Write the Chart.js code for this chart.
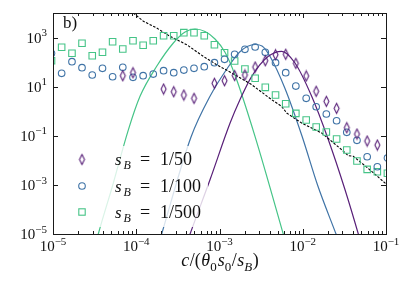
<!DOCTYPE html>
<html>
<head>
<meta charset="utf-8">
<script src="https://cdn.jsdelivr.net/npm/chart.js@4.4.0/dist/chart.umd.min.js"></script>
<style>
  html, body { margin: 0; padding: 0; background: #fff; }
</style>
</head>
<body>
<canvas id="chart" width="416" height="284"></canvas>
<script>
// bin centres, shared by the three marker sets
var binX = [9.6e-6, 1.27e-5, 1.69e-5, 2.23e-5, 2.96e-5, 3.93e-5, 5.20e-5, 6.89e-5, 9.14e-5,
  1.21e-4, 1.60e-4, 2.13e-4, 2.82e-4, 3.73e-4, 4.94e-4, 6.56e-4, 8.69e-4,
  1.15e-3, 1.52e-3, 2.02e-3, 2.68e-3, 3.55e-3, 4.71e-3, 6.24e-3, 8.26e-3,
  1.10e-2, 1.45e-2, 1.92e-2, 2.55e-2, 3.38e-2, 4.48e-2, 5.94e-2, 7.87e-2, 1.04e-1];

var diamondY = [null, null, null, null, null, null, null, 27.9, 37, null, null, 8.02, 6.22, 4.57, 3.35, null,
  13.7, 17.5, 28.4, 29.9, 63, 114, 200, 208, 89.3, 27.2, 6.47, 2.53, 1.31, 0.213, 0.118, 0.0611, 0.042, null];
var circleY = [228, 35, 104, 59.2, 29.9, 55.9, 25.4, 61.4, 24, 27.9, 32.7, 44.7, 37, 47.6, 55.9, 65,
  94.6, 130, 208, 332, 412, 251, 94.6, 37, 10.6, 3.35, 1.52, 0.769, 0.41, 0.138, 0.0653, 0.014, 0.00548, 0.0124];
var squareY = [114, 401, 228, 583, 182, 251, 678, 342, 744, 483, 744, 1190, 1190, 1580, 1580, 1190,
  512, 242, 111, 52.4, 21.9, 9.4, 4.57, 2.02, 0.82, 0.438, 0.227, 0.142, 0.0738, 0.0263, 0.00935, 0.0043, 0.00344, 0.00296];

// fitted curves
var fit50X = [3.52e-4, 4.43e-4, 7.69e-4, 1.34e-3, 1.76e-3, 2.44e-3, 3.86e-3, 5.58e-3, 8.07e-3, 1.28e-2, 2.03e-2, 3.22e-2, 4.65e-2, 5.6e-2];
var fit50Y = [1.05e-6, 1e-5, 1.62e-3, 0.330, 2.94, 26.4, 172, 275, 91.8, 4.05, 0.069, 6.34e-4, 1e-5, 1.05e-6];
var fit100X = [1.66e-4, 2.02e-4, 4.55e-4, 7.69e-4, 1.26e-3, 1.76e-3, 2.67e-3, 3.24e-3, 4.05e-3, 6.12e-3, 9.79e-3, 1.52e-2, 2.51e-2, 3.22e-2];
var fit100Y = [1.05e-6, 1e-5, 0.089, 4.05, 60.3, 266, 521, 453, 169, 8.41, 0.0977, 8.97e-4, 1e-5, 1.05e-6];
var fit500X = [2.94e-5, 3.50e-5, 5.26e-5, 8.02e-5, 1.11e-4, 1.76e-4, 2.79e-4, 3.86e-4, 5.08e-4, 6.70e-4, 8.83e-4, 1.16e-3, 1.53e-3, 2.67e-3, 5.83e-3, 7.03e-3];
var fit500Y = [1.05e-6, 1e-5, 1.08e-3, 0.171, 4.05, 67.5, 600, 1680, 2230, 1760, 873, 258, 30.7, 0.095, 1e-5, 1.05e-6];

// dashed black reference line
var dashX = [9.22e-5, 1.22e-4, 1.76e-4, 2.54e-4, 4.04e-4, 6.38e-4, 9.25e-4, 1.53e-3, 2.44e-3, 4.24e-3,
  5.58e-3, 6.41e-3, 9.70e-3, 1.69e-2, 2.94e-2, 3.52e-2, 4.05e-2, 5.10e-2, 6.73e-2, 1.03e-1];
var dashY = [1e4, 4590, 2450, 1125, 512, 172, 78.4, 30.7, 12.0, 2.94,
  1.58, 0.845, 0.330, 0.129, 0.0270, 0.0154, 0.0146, 7.76e-3, 3.56e-3, 1.01e-3];

var xTicks = [1e-5, 1e-4, 1e-3, 1e-2, 1e-1];
var xTickExp = ['\u22125', '\u22124', '\u22123', '\u22122', '\u22121'];
var yTicks = [1e-5, 1e-3, 1e-1, 1e1, 1e3];
var yTickExp = ['\u22125', '\u22123', '\u22121', '1', '3'];
var legendLabels = ['1/50', '1/100', '1/500'];

var purple = '#581f78';
var blue = '#3f73a6';
var green = '#45c487';
var SERIF = '"Liberation Serif", "DejaVu Serif", serif';

function pts(xs, ys) {
  var out = [];
  for (var i = 0; i < xs.length; i++) {
    if (ys[i] != null) out.push({x: xs[i], y: ys[i]});
  }
  return out;
}

// narrow diamond marker
function makeDiamond(color) {
  var c = document.createElement('canvas');
  c.width = 9; c.height = 13;
  var g = c.getContext('2d');
  g.strokeStyle = color;
  g.lineWidth = 1.1;
  g.beginPath();
  g.moveTo(4.5, 1.5); g.lineTo(7, 6.5); g.lineTo(4.5, 11.5); g.lineTo(2, 6.5); g.closePath();
  g.stroke();
  return c;
}
var diamondImg = makeDiamond(purple);

function fontFor(r, size) {
  var s = (r.sub || r.sup) ? Math.round(size * 0.7) : size;
  return (r.it ? 'italic ' : '') + s + 'px ' + SERIF;
}
function drawRuns(ctx, runs, x, y, size, align) {
  var total = 0;
  runs.forEach(function(r) {
    ctx.font = fontFor(r, size);
    r.w = ctx.measureText(r.t).width + (r.gap || 0);
    total += r.w;
  });
  var cx = align === 'center' ? x - total / 2 : (align === 'right' ? x - total : x);
  ctx.textAlign = 'left';
  ctx.textBaseline = 'alphabetic';
  runs.forEach(function(r) {
    ctx.font = fontFor(r, size);
    var dy = r.sub ? size * 0.25 : (r.sup ? -size * 0.42 : 0);
    ctx.fillText(r.t, cx, y + dy);
    cx += r.w;
  });
}

var axesPlugin = {
  id: 'axesPlugin',
  afterDatasetsDraw: function(chart) {
    var ctx = chart.ctx;
    var a = chart.chartArea;
    var xs = chart.scales.x, ys = chart.scales.y;
    ctx.save();

    // legend (semi-transparent white box like matplotlib)
    ctx.fillStyle = 'rgba(255,255,255,0.8)';
    ctx.fillRect(69, 146, 139, 81);
    var rows = [159.5, 186, 212];
    ctx.drawImage(diamondImg, 82 - 4.5, rows[0] - 6.5);
    ctx.strokeStyle = blue; ctx.lineWidth = 1.1;
    ctx.beginPath(); ctx.arc(82, rows[1], 3.3, 0, Math.PI * 2); ctx.stroke();
    ctx.strokeStyle = green;
    ctx.strokeRect(78.8, rows[2] - 3.2, 6.4, 6.4);
    ctx.fillStyle = '#111';
    for (var i = 0; i < 3; i++) {
      var b = rows[i] + 5.5;
      ctx.font = 'italic 17px ' + SERIF;
      ctx.fillText('s', 115, b);
      ctx.font = 'italic 12px ' + SERIF;
      ctx.fillText('B', 123.5, b + 4);
      ctx.font = '18px ' + SERIF;
      ctx.fillText('=', 140, b);
      ctx.fillText(legendLabels[i], 160, b);
    }

    // frame
    ctx.strokeStyle = '#1a1a1a';
    ctx.lineWidth = 1;
    ctx.strokeRect(Math.round(a.left) + 0.5, Math.round(a.top) + 0.5, Math.round(a.right - a.left), Math.round(a.bottom - a.top));

    // x ticks (inward, bottom and top)
    ctx.beginPath();
    for (var d = -5; d <= -1; d++) {
      for (var k = 1; k <= 9; k++) {
        var v = k * Math.pow(10, d);
        if (v > 0.1000001) break;
        var px = Math.round(xs.getPixelForValue(v)) + 0.5;
        var len = k === 1 ? 5 : 3;
        ctx.moveTo(px, a.bottom); ctx.lineTo(px, a.bottom - len);
        ctx.moveTo(px, a.top); ctx.lineTo(px, a.top + len);
      }
    }
    // y ticks (inward, left and right)
    yTicks.forEach(function(v) {
      var py = Math.round(ys.getPixelForValue(v)) + 0.5;
      ctx.moveTo(a.left, py); ctx.lineTo(a.left + 5, py);
      ctx.moveTo(a.right, py); ctx.lineTo(a.right - 5, py);
    });
    ctx.stroke();

    // tick labels
    ctx.fillStyle = '#111';
    xTicks.forEach(function(v, i) {
      drawRuns(ctx, [{t: '10'}, {t: xTickExp[i], sup: true}], xs.getPixelForValue(v), 251, 15, 'center');
    });
    yTicks.forEach(function(v, i) {
      drawRuns(ctx, [{t: '10'}, {t: yTickExp[i], sup: true}], 47, ys.getPixelForValue(v) + 5, 15, 'right');
    });

    // axis title
    drawRuns(ctx, [
      {t: 'c', it: true, gap: 0.5}, {t: '/(', gap: 0.5}, {t: '\u03b8', it: true}, {t: '0', sub: true, gap: 1},
      {t: 's', it: true}, {t: '0', sub: true, gap: 0.5}, {t: '/', gap: 0.5}, {t: 's', it: true},
      {t: 'B', it: true, sub: true, gap: 0.5}, {t: ')'}
    ], 220, 266, 18, 'center');

    // panel label
    ctx.font = '17px ' + SERIF;
    ctx.fillText('b)', 63, 28);
    ctx.restore();
  }
};

var ctx = document.getElementById('chart').getContext('2d');
var myChart = new Chart(ctx, {
  type: 'line',
  data: {
    datasets: [
      {label: 'sB=1/50', data: pts(binX, diamondY), showLine: false, pointStyle: diamondImg, clip: 0},
      {label: 'sB=1/100', data: pts(binX, circleY), showLine: false, pointStyle: 'circle', pointRadius: 3.3,
        pointBorderWidth: 1.1, pointBorderColor: blue, pointBackgroundColor: 'rgba(0,0,0,0)', clip: 0},
      {label: 'sB=1/500', data: pts(binX, squareY), showLine: false, pointStyle: 'rect', pointRadius: 4.6,
        pointBorderWidth: 1.1, pointBorderColor: green, pointBackgroundColor: 'rgba(0,0,0,0)', clip: 0},
      {label: 'dash', data: pts(dashX, dashY), borderColor: '#000', borderWidth: 1.1, borderDash: [2.5, 1.5],
        pointRadius: 0, tension: 0, clip: 0},
      {label: 'fit50', data: pts(fit50X, fit50Y), borderColor: purple, borderWidth: 1.2, pointRadius: 0,
        cubicInterpolationMode: 'monotone', clip: 0},
      {label: 'fit100', data: pts(fit100X, fit100Y), borderColor: blue, borderWidth: 1.2, pointRadius: 0,
        cubicInterpolationMode: 'monotone', clip: 0},
      {label: 'fit500', data: pts(fit500X, fit500Y), borderColor: green, borderWidth: 1.2, pointRadius: 0,
        cubicInterpolationMode: 'monotone', clip: 0}
    ]
  },
  options: {
    responsive: false,
    animation: false,
    devicePixelRatio: 1,
    layout: {padding: {left: 53, right: 30, top: 13, bottom: 50}},
    scales: {
      x: {type: 'logarithmic', min: 1e-5, max: 1e-1, display: false},
      y: {type: 'logarithmic', min: 1e-5, max: 1e4, display: false}
    },
    plugins: {legend: {display: false}, tooltip: {enabled: false}}
  },
  plugins: [axesPlugin]
});
</script>
</body>
</html>
